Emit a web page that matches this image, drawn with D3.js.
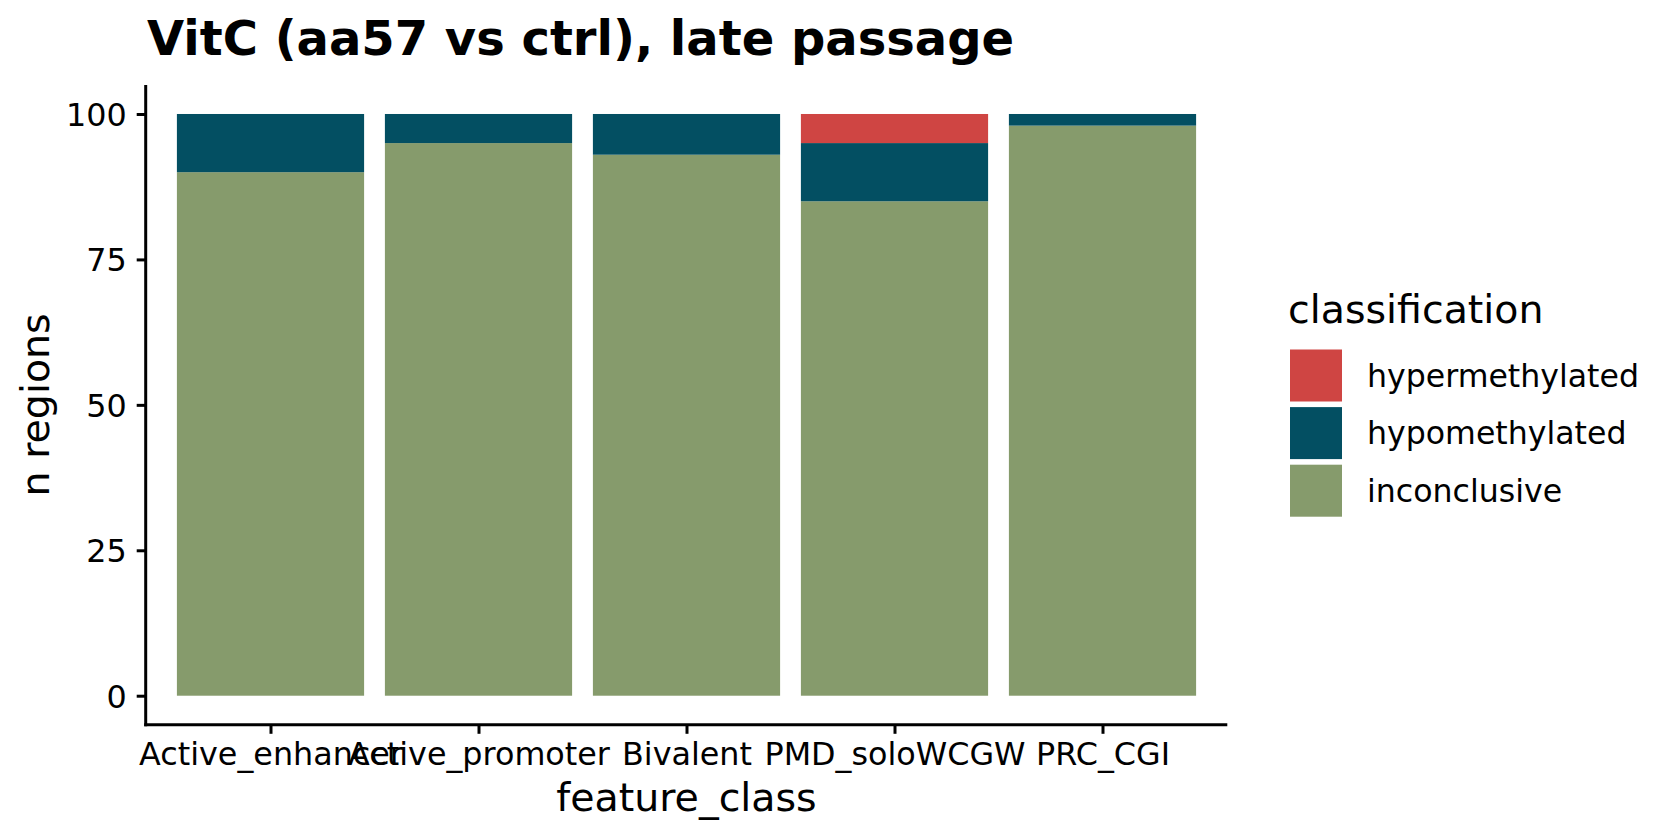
<!DOCTYPE html>
<html>
<head>
<meta charset="utf-8">
<script src="https://cdn.jsdelivr.net/npm/d3@7"></script>
<style>
  html, body { margin: 0; padding: 0; background: #fff; }
  svg { display: block; }
  text { font-family: "DejaVu Sans", sans-serif; fill: #000; }
</style>
</head>
<body>
<svg id="chart" width="1680" height="840"></svg>
<script>
const categories = ["Active_enhancer", "Active_promoter", "Bivalent", "PMD_soloWCGW", "PRC_CGI"];
const inconclusive = [90, 95, 93, 85, 98];
const hypomethylated = [10, 5, 7, 10, 2];
const hypermethylated = [0, 0, 0, 5, 0];
const classNames = ["hypermethylated", "hypomethylated", "inconclusive"];
const classColors = ["#CF4543", "#034F62", "#869B6C"];
const yTicks = [0, 25, 50, 75, 100];
const titleText = "VitC (aa57 vs ctrl), late passage";
const xTitle = "feature_class";
const yTitle = "n regions";
const legendTitle = "classification";

(function () {
const svg = d3.select("#chart");
const pLeft = 145.7, pRight = 1227.3, pTop = 84.9, pBottom = 724.8;

const x = d3.scalePoint().domain(categories).range([pLeft, pRight]).padding(0.6);
const bw = x.step() * 0.9;
const y = d3.scaleLinear().domain([-5, 105]).range([pBottom, pTop]);
const color = d3.scaleOrdinal().domain(classNames).range(classColors);

const rows = categories.map((c, i) => ({
  cat: c,
  inconclusive: inconclusive[i],
  hypomethylated: hypomethylated[i],
  hypermethylated: hypermethylated[i]
}));
const stack = d3.stack().keys(["inconclusive", "hypomethylated", "hypermethylated"]);
const series = stack(rows);

const g = svg.append("g");
series.forEach(s => {
  g.append("g").attr("fill", color(s.key))
    .selectAll("rect").data(s.filter(d => d[1] - d[0] > 0)).join("rect")
    .attr("x", d => x(d.data.cat) - bw / 2)
    .attr("width", bw)
    .attr("y", d => y(d[1]))
    .attr("height", d => y(d[0]) - y(d[1]));
});

const yAxis = d3.axisLeft(y).tickValues(yTicks).tickSize(9).tickSizeOuter(0).tickPadding(10);
const yg = svg.append("g").attr("transform", `translate(${pLeft},0)`).call(yAxis);
const xAxis = d3.axisBottom(x).tickSize(9).tickSizeOuter(0).tickPadding(8);
const xg = svg.append("g").attr("transform", `translate(0,${pBottom})`).call(xAxis);

[yg, xg].forEach(a => {
  a.select(".domain").attr("stroke", "#000").attr("stroke-width", 3);
  a.selectAll(".tick line").attr("stroke", "#000").attr("stroke-width", 3);
  a.selectAll(".tick text").attr("font-family", "DejaVu Sans").attr("font-size", 31.8).attr("fill", "#000");
});
yg.select(".domain").attr("d", `M0,${pBottom + 1.5}V${pTop}`);
xg.select(".domain").attr("d", `M${pLeft - 1.5},0H${pRight}`);
yg.selectAll(".tick text").attr("dy", "0.36em").attr("x", -19);
xg.selectAll(".tick text").attr("dy", null).attr("y", 40);

svg.append("text").attr("x", 147).attr("y", 55)
  .attr("font-size", 48).attr("font-weight", "bold").text(titleText);

svg.append("text").attr("x", (pLeft + pRight) / 2).attr("y", 811)
  .attr("text-anchor", "middle").attr("font-size", 39.5).text(xTitle);
svg.append("text").attr("transform", `translate(49,${(pTop + pBottom) / 2}) rotate(-90)`)
  .attr("text-anchor", "middle").attr("font-size", 39.5).text(yTitle);

const lg = svg.append("g");
lg.append("text").attr("x", 1288).attr("y", 322.7).attr("font-size", 39.5).text(legendTitle);
classNames.forEach((n, i) => {
  const ky = 349.5 + i * 57.6;
  lg.append("rect").attr("x", 1290).attr("y", ky).attr("width", 52).attr("height", 52).attr("fill", color(n));
  lg.append("text").attr("x", 1367).attr("y", ky + 26).attr("dy", "0.36em")
    .attr("font-size", 31.6).text(n);
});
})();
</script>
</body>
</html>
